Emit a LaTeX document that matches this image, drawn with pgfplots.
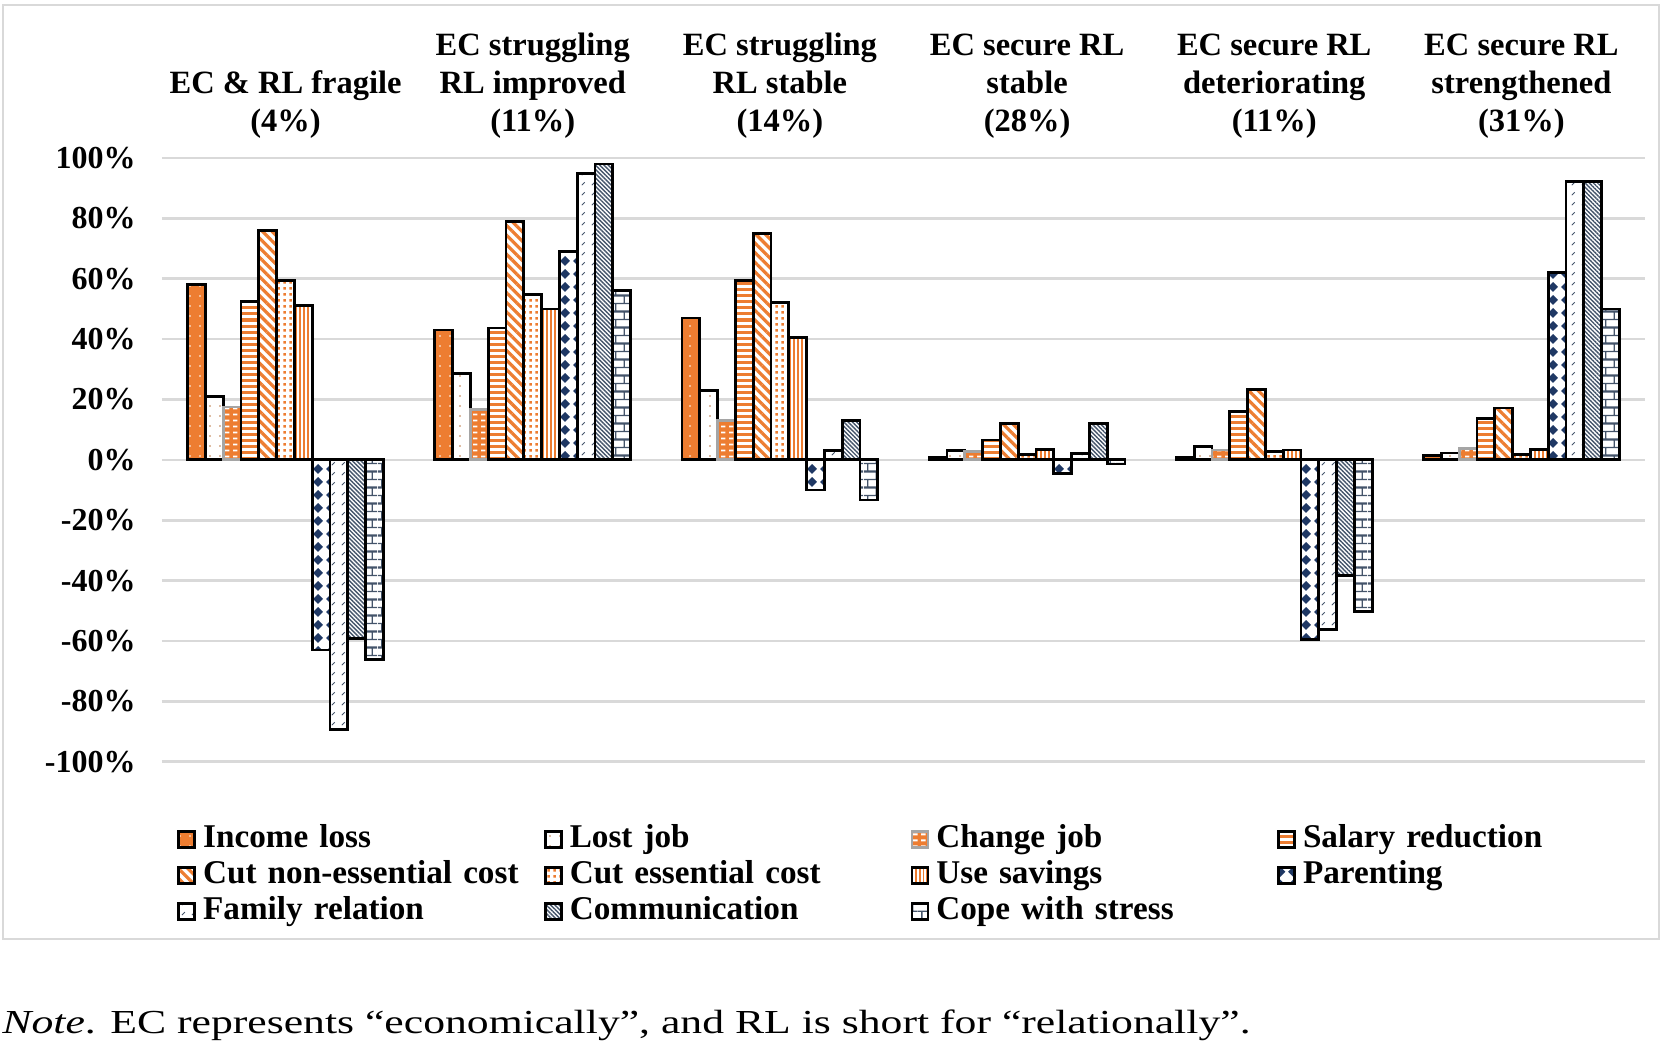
\documentclass[border=0pt]{standalone}
\usepackage{fontspec}
\setmainfont{Liberation Serif}
\newfontfamily\notefont{Liberation Serif}[FakeStretch=1.3]
\usepackage{pgfplots}
\pgfplotsset{compat=1.18}
\usetikzlibrary{patterns,patterns.meta}
\definecolor{eorange}{RGB}{237,125,49}
\definecolor{edot}{RGB}{190,120,70}
\definecolor{enavy}{RGB}{31,56,100}
\definecolor{eslate}{RGB}{68,84,106}
\definecolor{egray}{RGB}{165,165,165}
\definecolor{gridc}{RGB}{217,217,217}
% custom patterns
\pgfdeclarepatternformonly{mydiamonds}{\pgfqpoint{0pt}{0pt}}{\pgfqpoint{6.5pt}{6.5pt}}{\pgfqpoint{6.5pt}{6.5pt}}{%
  \pgfpathmoveto{\pgfqpoint{3.25pt}{0.6pt}}\pgfpathlineto{\pgfqpoint{5.9pt}{3.25pt}}%
  \pgfpathlineto{\pgfqpoint{3.25pt}{5.9pt}}\pgfpathlineto{\pgfqpoint{0.6pt}{3.25pt}}\pgfpathclose
  \pgfusepath{fill}}
\pgfdeclarepatternformonly{myslashes}{\pgfqpoint{0pt}{0pt}}{\pgfqpoint{5pt}{5pt}}{\pgfqpoint{5pt}{5pt}}{%
  \pgfsetlinewidth{0.45pt}%
  \pgfpathmoveto{\pgfqpoint{1pt}{1pt}}\pgfpathlineto{\pgfqpoint{2.6pt}{2.6pt}}%
  \pgfusepath{stroke}}
\pgfdeclarepatternformonly{mydashes}{\pgfqpoint{0pt}{0pt}}{\pgfqpoint{4pt}{3pt}}{\pgfqpoint{4pt}{3pt}}{%
  \pgfpathrectangle{\pgfqpoint{0.6pt}{0.9pt}}{\pgfqpoint{2.4pt}{1.1pt}}%
  \pgfusepath{fill}}
\pgfdeclarepatternformonly{mysquares}{\pgfqpoint{0pt}{0pt}}{\pgfqpoint{3pt}{3pt}}{\pgfqpoint{3pt}{3pt}}{%
  \pgfpathrectangle{\pgfqpoint{0.8pt}{0.8pt}}{\pgfqpoint{1.4pt}{1.4pt}}%
  \pgfusepath{fill}}
\pgfdeclarepatternformonly{mybricks}{\pgfqpoint{0pt}{0pt}}{\pgfqpoint{9pt}{8pt}}{\pgfqpoint{9pt}{8pt}}{%
  \pgfsetlinewidth{0.7pt}%
  \pgfpathmoveto{\pgfqpoint{0pt}{0pt}}\pgfpathlineto{\pgfqpoint{9pt}{0pt}}%
  \pgfpathmoveto{\pgfqpoint{0pt}{4pt}}\pgfpathlineto{\pgfqpoint{9pt}{4pt}}%
  \pgfpathmoveto{\pgfqpoint{0pt}{8pt}}\pgfpathlineto{\pgfqpoint{9pt}{8pt}}%
  \pgfpathmoveto{\pgfqpoint{2pt}{0pt}}\pgfpathlineto{\pgfqpoint{2pt}{4pt}}%
  \pgfpathmoveto{\pgfqpoint{6.5pt}{4pt}}\pgfpathlineto{\pgfqpoint{6.5pt}{8pt}}%
  \pgfusepath{stroke}}
\begin{document}
\begin{tikzpicture}
\useasboundingbox (0,0) rectangle (831.5pt,-523pt);
\fill[white] (0,0) rectangle (831.5pt,-523pt);
\draw[gridc, line width=1.3pt] (1.5pt,-2.5pt) rectangle (829.5pt,-469.5pt);
\begin{axis}[
  at={(81pt,-79pt)}, anchor=north west,
  scale only axis, width=741.5pt, height=301.85pt,
  xmin=-0.5, xmax=5.5, ymin=-100, ymax=100,
  ybar=0pt, bar width=0.072,
  axis line style={draw=none},
  major tick length=0pt,
  ymajorgrids, grid style={draw=gridc, line width=1.3pt},
  ytick={-100,-80,-60,-40,-20,0,20,40,60,80,100},
  yticklabels={-100\%,-80\%,-60\%,-40\%,-20\%,0\%,20\%,40\%,60\%,80\%,100\%},
  yticklabel style={anchor=east, inner sep=0pt, xshift=-13pt, font=\fontsize{16}{19}\selectfont\bfseries},
  xtick={0,1,2,3,4,5},
  xticklabels={{EC \& RL fragile\\(4\%)},{EC struggling\\RL improved\\(11\%)},{EC struggling\\RL stable\\(14\%)},{EC secure RL\\stable\\(28\%)},{EC secure RL\\deteriorating\\(11\%)},{EC secure RL\\strengthened\\(31\%)}},
  xticklabel pos=upper,
  xticklabel style={anchor=south, align=center, inner sep=0pt, yshift=9.5pt, font=\fontsize{16.25}{19}\selectfont\bfseries},
  legend columns=4,
  legend style={at={(0,0)}, anchor=north west, xshift=7.5pt, yshift=-29.5pt, draw=none, fill=none, inner sep=0pt, row sep=0pt,
    font=\fontsize{16.6}{19}\selectfont\bfseries,
    nodes={inner xsep=0pt, inner ysep=0pt, text width=170.4pt, text height=13pt, text depth=5pt, align=left},
    /tikz/every odd column/.append style={column sep=3.5pt}},
  legend cell align=left,
  legend image code/.code={\draw[#1] (0pt,-4pt) rectangle (8pt,4pt);},
  every axis plot/.append style={line width=1.4pt},
]
% Income loss
\addplot[draw=black, preaction={fill=eorange}, pattern={Dots[distance=5pt,radius=0.45pt]}, pattern color=white]
  coordinates {(0,58) (1,43) (2,47) (3,0.8) (4,0.8) (5,1.4)};
% Lost job
\addplot[draw=black, preaction={fill=white}, pattern={Dots[distance=5pt,radius=0.45pt]}, pattern color=edot]
  coordinates {(0,21) (1,28.6) (2,23) (3,3) (4,4.4) (5,2.3)};
% Change job
\addplot[draw=egray, preaction={fill=eorange}, pattern=mydashes, pattern color=white]
  coordinates {(0,17.5) (1,16.6) (2,13) (3,2.8) (4,3.3) (5,3.7)};
% Salary reduction
\addplot[draw=black, preaction={fill=white}, pattern={Lines[angle=0,distance=3pt,line width=1.5pt]}, pattern color=eorange]
  coordinates {(0,52.4) (1,43.7) (2,59.5) (3,6.6) (4,16) (5,13.6)};
% Cut non-essential cost
\addplot[draw=black, preaction={fill=white}, pattern={Lines[angle=-45,distance=3.4pt,line width=1.6pt]}, pattern color=eorange]
  coordinates {(0,76) (1,79) (2,75) (3,12) (4,23.2) (5,17.2)};
% Cut essential cost
\addplot[draw=black, preaction={fill=white}, pattern=mysquares, pattern color=eorange]
  coordinates {(0,59.4) (1,54.8) (2,52.2) (3,1.7) (4,2.9) (5,1.7)};
% Use savings
\addplot[draw=black, preaction={fill=white}, pattern={Lines[angle=90,distance=1.9pt,line width=0.9pt]}, pattern color=eorange]
  coordinates {(0,51.1) (1,50) (2,40.6) (3,3.4) (4,3.3) (5,3.4)};
% Parenting
\addplot[draw=black, preaction={fill=white}, pattern=mydiamonds, pattern color=enavy]
  coordinates {(0,-63) (1,69) (2,-10) (3,-4.4) (4,-59.4) (5,62)};
% Family relation
\addplot[draw=black, preaction={fill=white}, pattern=myslashes, pattern color=eslate]
  coordinates {(0,-89.2) (1,95) (2,3.1) (3,2.1) (4,-56.1) (5,92.1)};
% Communication
\addplot[draw=black, preaction={fill=white}, pattern={Lines[angle=-45,distance=1.5pt,line width=0.7pt]}, pattern color=eslate]
  coordinates {(0,-59.2) (1,98) (2,13) (3,12) (4,-38.3) (5,92.1)};
% Cope with stress
\addplot[draw=black, preaction={fill=white}, pattern=mybricks, pattern color=eslate]
  coordinates {(0,-66.2) (1,56) (2,-13.3) (3,-1.4) (4,-50.2) (5,50)};
\legend{Income loss, Lost job, Change job, Salary reduction, Cut non-essential cost, Cut essential cost, Use savings, Parenting, Family relation, Communication, Cope with stress}
\end{axis}
\node[anchor=base west, inner sep=0pt, font=\notefont\fontsize{16.8}{19}\selectfont] at (1pt,-516.5pt) {\textit{Note}. EC represents “economically”, and RL is short for “relationally”.};
\end{tikzpicture}
\end{document}
